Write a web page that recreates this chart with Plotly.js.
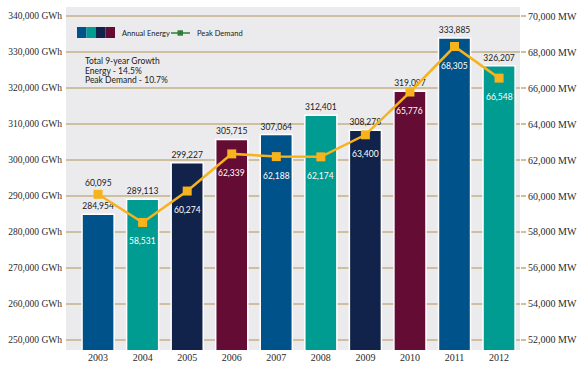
<!DOCTYPE html>
<html>
<head>
<meta charset="utf-8">
<script src="https://cdn.plot.ly/plotly-3.0.1.min.js"></script>
<style>html,body{margin:0;padding:0;background:#fff;}#chart{width:583px;height:368px;}</style>
</head>
<body>
<div id="chart"></div>
<script>
var years = ['2003','2004','2005','2006','2007','2008','2009','2010','2011','2012'];
var annualEnergy = [284954, 289113, 299227, 305715, 307064, 312401, 308278, 319097, 333885, 326207];
var peakDemand = [60095, 58531, 60274, 62339, 62188, 62174, 63400, 65776, 68305, 66548];
var barColors = ['#00528a','#009b91','#11234a','#650c35','#00528a','#009b91','#11234a','#650c35','#00528a','#009b91'];
var legendSwatch = ['#00528a','#009b91','#11234a','#650c35'];
var noteLines = ['Total 9-year Growth', 'Energy - 14.5%', 'Peak Demand - 10.7%'];

var fmt = function(v){ return v.toLocaleString('en-US'); };

// plot area in pixels (for decoration placement)
var L = 66, R = 520, T = 7, B = 350;
function px(x){ return (x - L) / (R - L); }
function py(y){ return (B - y) / (B - T); }

var barTrace = {
  type: 'bar',
  x: years,
  y: annualEnergy,
  yaxis: 'y',
  width: 0.72,
  marker: {color: barColors, line: {color: '#ffffff', width: 1.5}},
  text: annualEnergy.map(fmt),
  textposition: 'outside',
  constraintext: 'none',
  cliponaxis: false,
  textfont: {family: 'Lato, "Open Sans", sans-serif', size: 8.5, color: '#1a1a1a'},
  hoverinfo: 'x+y',
  showlegend: false
};

var lineTrace = {
  type: 'scatter',
  mode: 'lines+markers',
  x: years,
  y: peakDemand,
  yaxis: 'y2',
  line: {color: '#f6b31b', width: 2.5},
  marker: {symbol: 'square', size: 9, color: '#f6b31b'},
  cliponaxis: false,
  showlegend: false
};

var annotations = peakDemand.map(function(v, i){
  var above = (i === 0);
  return {
    x: i, y: v, xref: 'x', yref: 'y2',
    text: fmt(v), showarrow: false,
    yshift: above ? 11 : -19,
    font: {family: 'Lato, "Open Sans", sans-serif', size: 8.5, color: above ? '#1a1a1a' : '#ffffff'}
  };
});

// note text
noteLines.forEach(function(t, i){
  annotations.push({
    xref: 'paper', yref: 'paper', x: px(83), y: py(61 + i * 9.6),
    xanchor: 'left', yanchor: 'middle', showarrow: false, text: t,
    font: {family: 'Lato, "Open Sans", sans-serif', size: 8.5, color: '#1a1a1a'}
  });
});
// legend text
annotations.push({xref:'paper', yref:'paper', x: px(120), y: py(33), xanchor:'left', yanchor:'middle', showarrow:false,
  text:'Annual Energy', font:{family:'Lato, "Open Sans", sans-serif', size:7.5, color:'#1a1a1a'}});
annotations.push({xref:'paper', yref:'paper', x: px(195), y: py(33), xanchor:'left', yanchor:'middle', showarrow:false,
  text:'Peak Demand', font:{family:'Lato, "Open Sans", sans-serif', size:7.5, color:'#1a1a1a'}});

var shapes = [];
legendSwatch.forEach(function(c, i){
  shapes.push({type:'rect', xref:'paper', yref:'paper', x0: px(77 + i*9.5), x1: px(77 + (i+1)*9.5),
    y0: py(38), y1: py(27), fillcolor: c, line: {width: 0}});
});
shapes.push({type:'line', xref:'paper', yref:'paper', x0: px(171), x1: px(190), y0: py(33), y1: py(33),
  line: {color: '#2f7d3a', width: 1.5}});
shapes.push({type:'rect', xref:'paper', yref:'paper', x0: px(177.5), x1: px(183), y0: py(35.7), y1: py(30.3),
  fillcolor: '#2f7d3a', line: {width: 0}});

var tickFont = {family: '"Liberation Serif", "DejaVu Serif", serif', size: 9.5, color: '#2a2a2a'};

var layout = {
  width: 583, height: 368,
  margin: {l: L, r: 583 - R, t: T, b: 368 - B, pad: 0},
  paper_bgcolor: '#ffffff',
  plot_bgcolor: '#ebebed',
  showlegend: false,
  bargap: 0.28,
  xaxis: {
    type: 'category', range: [-0.72, 9.47],
    showgrid: false, zeroline: false, showline: false, ticks: '',
    tickfont: {family: '"Liberation Serif", "DejaVu Serif", serif', size: 10, color: '#2a2a2a'}
  },
  yaxis: {
    range: [247222, 342500], dtick: 10000, tick0: 250000,
    tickformat: ',', ticksuffix: ' GWh',
    showgrid: true, gridcolor: '#cdbf9f', gridwidth: 1.5,
    zeroline: false, showline: false, ticks: '', ticklabelstandoff: 3,
    tickfont: tickFont
  },
  yaxis2: {
    overlaying: 'y', side: 'right',
    range: [51444, 70500], dtick: 2000, tick0: 52000,
    tickformat: ',', ticksuffix: ' MW',
    showgrid: false, zeroline: false, showline: false,
    ticks: 'outside', ticklen: 5, tickwidth: 1.5, tickcolor: '#cdbf9f',
    tickfont: {family: '"Liberation Serif", "DejaVu Serif", serif', size: 10, color: '#2a2a2a'}
  },
  annotations: annotations,
  shapes: shapes
};

Plotly.newPlot('chart', [barTrace, lineTrace], layout, {displayModeBar: false, staticPlot: true});
</script>
</body>
</html>
